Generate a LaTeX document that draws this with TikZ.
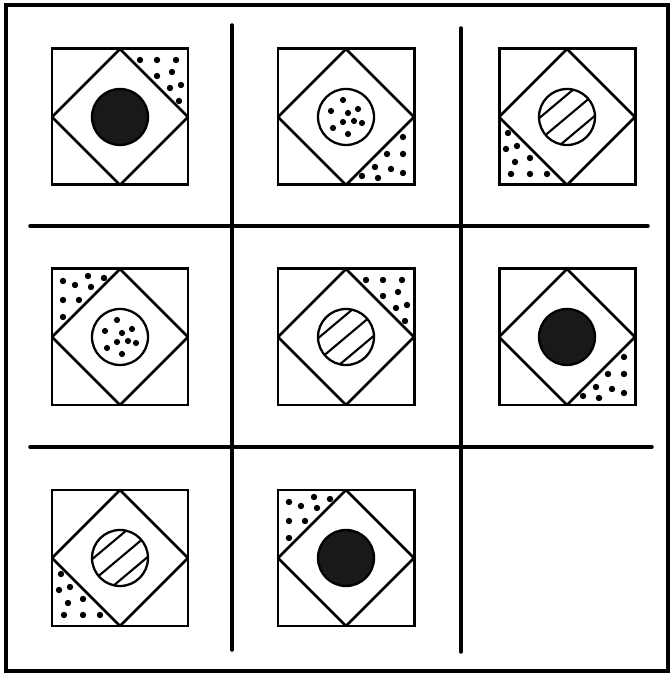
\documentclass[tikz,border=0pt]{standalone}
\usepackage{tikz}
\begin{document}
\begin{tikzpicture}[x=0.02cm, y=0.02cm,
  frameline/.style={line width=2pt, line cap=round},
  tileline/.style={line width=1.7pt},
  kiteline/.style={line width=1.5pt, line join=round},
  stripeline/.style={line width=1.2pt}]
  \useasboundingbox (0,0) rectangle (670,675);
  % outer frame and the grid lines
  \draw[frameline] (6,4) rectangle (668,670);
  \draw[frameline] (232,650) -- (232,25);
  \draw[frameline] (461,647) -- (461,23);
  \draw[frameline] (30,449) -- (648,449);
  \draw[frameline] (30,228) -- (652,228);
  % tile: centre x, centre y, circle kind (0 black, 1 dots, 2 stripes), corner turn
  \def\half{68}
  \def\rad{28}
  \foreach \cx/\cy/\kind/\turn [count=\n] in {%
    120/558/0/0,   346/558/1/270, 567/558/2/180,%
    120/338/1/90,  346/338/2/0,   567/338/0/270,%
    120/117/2/180, 346/117/0/90}{%
    \begin{scope}[shift={(\cx,\cy)}]
      \coordinate (T\n) at (0,0);
      \draw[tileline] (-\half,-\half) rectangle (\half,\half);
      \draw[kiteline] (0,\half) -- (\half,0) -- (0,-\half) -- (-\half,0) -- cycle;
      % dotted corner
      \begin{scope}[rotate=\turn]
        \foreach \dx/\dy in {20/57,37/57,56/57,37/41,52/45,50/29,61/32,59/16}
          \fill (\dx,\dy) circle (3.2);
      \end{scope}
      % centre disc
      \ifcase\kind
        \fill[black!90] (T\n) circle (\rad);
        \draw[line width=1.3pt] (T\n) circle (\rad);
      \or
        \foreach \dx/\dy in {-3/17,12/8,-15/6,2/4,-3/-5,8/-4,16/-6,-13/-11,2/-17}
          \fill (\dx,\dy) circle (3.1);
        \draw[line width=1.3pt] (T\n) circle (\rad);
      \or
        \begin{scope}
          \clip (T\n) circle (\rad);
          \foreach \o in {-17,0,17}
            \draw[stripeline, rotate=40] (-32,\o) -- (32,\o);
        \end{scope}
        \draw[line width=1.3pt] (T\n) circle (\rad);
      \fi
    \end{scope}
  }
\end{tikzpicture}
\end{document}
